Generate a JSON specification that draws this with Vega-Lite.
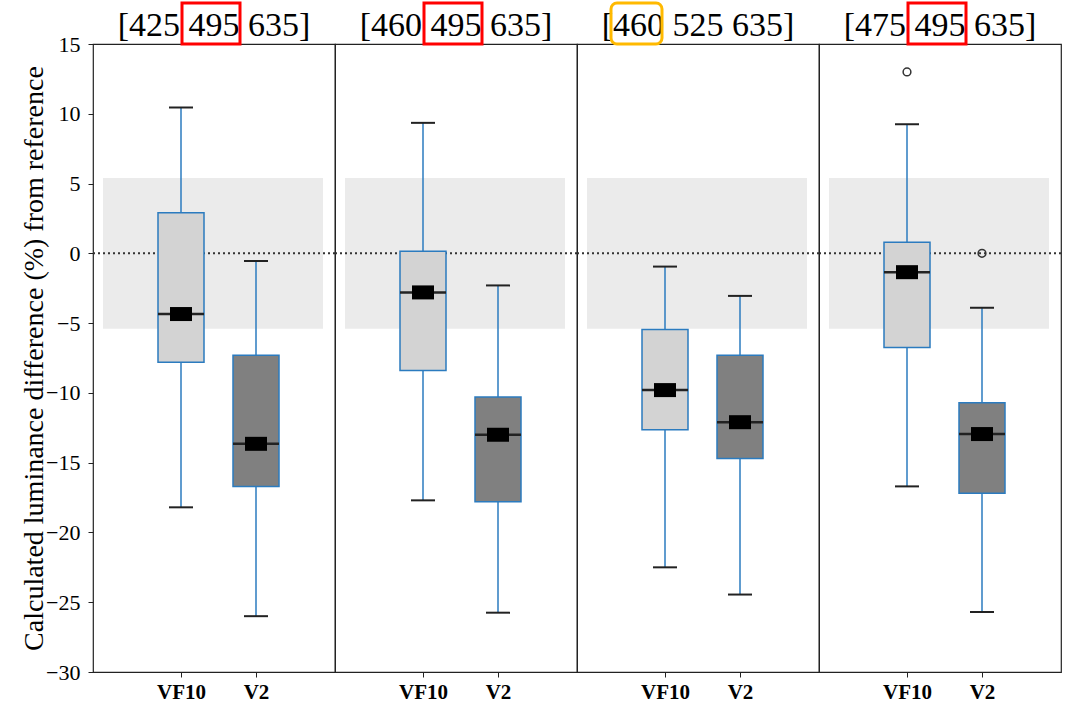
{
  "$schema": "https://vega.github.io/schema/vega-lite/v6.json",
  "padding": {"left": 20, "top": 0, "right": 5, "bottom": 0},
  "background": "white",
  "bounds": "flush",
  "data": {
    "values": [
      {"kind": "panel", "panel": 1, "title": "[425 495 635]", "mark": "mid", "lo": -5.4, "hi": 5.4},
      {"kind": "panel", "panel": 2, "title": "[460 495 635]", "mark": "mid", "lo": -5.4, "hi": 5.4},
      {"kind": "panel", "panel": 3, "title": "[460 525 635]", "mark": "left", "lo": -5.4, "hi": 5.4},
      {"kind": "panel", "panel": 4, "title": "[475 495 635]", "mark": "mid", "lo": -5.4, "hi": 5.4},
      {"kind": "box", "panel": 1, "group": "VF10", "lower": -18.2, "q1": -7.8, "median": -4.35, "mean": -4.35, "q3": 2.9, "upper": 10.45},
      {"kind": "box", "panel": 1, "group": "V2", "lower": -26.0, "q1": -16.7, "median": -13.65, "mean": -13.65, "q3": -7.3, "upper": -0.55},
      {"kind": "box", "panel": 2, "group": "VF10", "lower": -17.7, "q1": -8.4, "median": -2.8, "mean": -2.8, "q3": 0.15, "upper": 9.35},
      {"kind": "box", "panel": 2, "group": "V2", "lower": -25.75, "q1": -17.8, "median": -13.0, "mean": -13.0, "q3": -10.3, "upper": -2.3},
      {"kind": "box", "panel": 3, "group": "VF10", "lower": -22.5, "q1": -12.65, "median": -9.8, "mean": -9.8, "q3": -5.45, "upper": -0.95},
      {"kind": "box", "panel": 3, "group": "V2", "lower": -24.45, "q1": -14.7, "median": -12.1, "mean": -12.1, "q3": -7.3, "upper": -3.05},
      {"kind": "box", "panel": 4, "group": "VF10", "lower": -16.7, "q1": -6.75, "median": -1.35, "mean": -1.35, "q3": 0.8, "upper": 9.25},
      {"kind": "box", "panel": 4, "group": "V2", "lower": -25.7, "q1": -17.2, "median": -12.95, "mean": -12.95, "q3": -10.7, "upper": -3.9},
      {"kind": "outlier", "panel": 4, "group": "VF10", "value": 13.0},
      {"kind": "outlier", "panel": 4, "group": "V2", "value": 0.0}
    ]
  },
  "facet": {"column": {"field": "panel", "type": "ordinal", "header": null}},
  "spacing": 0,
  "spec": {
    "width": 242,
    "height": 628,
    "layer": [
      {
        "transform": [{"filter": "datum.kind === 'panel'"}],
        "mark": {"type": "rect", "fill": "#ebebeb", "xOffset": -78, "x2Offset": 67},
        "encoding": {
          "x": {"datum": "VF10", "type": "nominal",
                "scale": {"type": "point", "domain": ["VF10", "V2"], "range": [88, 163], "padding": 0},
                "axis": {"title": null, "labelAngle": 0, "labelFont": "Liberation Serif", "labelFontWeight": "bold", "labelFontSize": 21, "labelColor": "#000000", "tickColor": "#222222", "tickSize": 5, "labelPadding": 4, "domain": false, "grid": false}},
          "x2": {"datum": "V2"},
          "y": {"field": "lo", "type": "quantitative", "title": "Calculated luminance difference (%) from reference",
                "scale": {"domain": [-30, 15], "nice": false, "zero": false},
                "axis": {"values": [15, 10, 5, 0, -5, -10, -15, -20, -25, -30], "titleFont": "Liberation Serif", "titleFontSize": 28, "titleFontWeight": "normal", "titleColor": "#000000", "titlePadding": -3, "labelFont": "Liberation Serif", "labelFontSize": 22, "labelColor": "#000000", "tickColor": "#222222", "tickSize": 5, "labelPadding": 8, "domain": false, "grid": false}},
          "y2": {"field": "hi"}
        }
      },
      {
        "transform": [{"filter": "datum.kind === 'panel'"}],
        "mark": {"type": "rule", "color": "#333333", "strokeWidth": 2, "strokeDash": [2, 3]},
        "encoding": {"y": {"datum": 0, "type": "quantitative", "title": "Calculated luminance difference (%) from reference"}}
      },
      {
        "transform": [{"filter": "datum.kind === 'box'"}],
        "mark": {"type": "rule", "color": "#2b7bbf", "strokeWidth": 1.5},
        "encoding": {
          "x": {"field": "group", "type": "nominal", "title": null},
          "y": {"field": "lower", "type": "quantitative", "title": "Calculated luminance difference (%) from reference"},
          "y2": {"field": "q1"}
        }
      },
      {
        "transform": [{"filter": "datum.kind === 'box'"}],
        "mark": {"type": "rule", "color": "#2b7bbf", "strokeWidth": 1.5},
        "encoding": {
          "x": {"field": "group", "type": "nominal", "title": null},
          "y": {"field": "q3", "type": "quantitative", "title": "Calculated luminance difference (%) from reference"},
          "y2": {"field": "upper"}
        }
      },
      {
        "transform": [{"filter": "datum.kind === 'box'"}],
        "mark": {"type": "tick", "color": "#222222", "size": 24, "thickness": 2, "opacity": 1},
        "encoding": {
          "x": {"field": "group", "type": "nominal", "title": null},
          "y": {"field": "lower", "type": "quantitative", "title": "Calculated luminance difference (%) from reference"}
        }
      },
      {
        "transform": [{"filter": "datum.kind === 'box'"}],
        "mark": {"type": "tick", "color": "#222222", "size": 24, "thickness": 2, "opacity": 1},
        "encoding": {
          "x": {"field": "group", "type": "nominal", "title": null},
          "y": {"field": "upper", "type": "quantitative", "title": "Calculated luminance difference (%) from reference"}
        }
      },
      {
        "transform": [{"filter": "datum.kind === 'box'"}],
        "mark": {"type": "bar", "size": 46, "stroke": "#2b7bbf", "strokeWidth": 1.5},
        "encoding": {
          "x": {"field": "group", "type": "nominal", "title": null},
          "y": {"field": "q1", "type": "quantitative", "title": "Calculated luminance difference (%) from reference"},
          "y2": {"field": "q3"},
          "fill": {"field": "group", "type": "nominal", "scale": {"domain": ["VF10", "V2"], "range": ["#d3d3d3", "#808080"]}, "legend": null}
        }
      },
      {
        "transform": [{"filter": "datum.kind === 'box'"}],
        "mark": {"type": "tick", "color": "#222222", "size": 46, "thickness": 2.5, "opacity": 1},
        "encoding": {
          "x": {"field": "group", "type": "nominal", "title": null},
          "y": {"field": "median", "type": "quantitative", "title": "Calculated luminance difference (%) from reference"}
        }
      },
      {
        "transform": [{"filter": "datum.kind === 'box'"}],
        "mark": {"type": "tick", "color": "#000000", "size": 22, "thickness": 14, "opacity": 1},
        "encoding": {
          "x": {"field": "group", "type": "nominal", "title": null},
          "y": {"field": "mean", "type": "quantitative", "title": "Calculated luminance difference (%) from reference"}
        }
      },
      {
        "transform": [{"filter": "datum.kind === 'outlier'"}],
        "mark": {"type": "point", "filled": false, "color": "#333333", "size": 60, "strokeWidth": 1.5, "opacity": 1},
        "encoding": {
          "x": {"field": "group", "type": "nominal", "title": null},
          "y": {"field": "value", "type": "quantitative", "title": "Calculated luminance difference (%) from reference"}
        }
      },
      {
        "transform": [{"filter": "datum.kind === 'panel'"}],
        "mark": {"type": "text", "font": "Liberation Serif", "fontSize": 34, "baseline": "alphabetic", "align": "center", "dy": -8, "color": "#000000"},
        "encoding": {
          "y": {"datum": 15, "type": "quantitative", "title": "Calculated luminance difference (%) from reference"},
          "text": {"field": "title"}
        }
      },
      {
        "transform": [{"filter": "datum.kind === 'panel' && datum.mark === 'mid'"}],
        "mark": {"type": "rect", "fill": null, "fillOpacity": 0, "stroke": "#ff0000", "strokeWidth": 3, "xOffset": 1, "x2Offset": -16, "y2Offset": -41},
        "encoding": {
          "x": {"datum": "VF10", "type": "nominal"},
          "x2": {"datum": "V2"},
          "y": {"datum": 15, "type": "quantitative", "title": "Calculated luminance difference (%) from reference"},
          "y2": {"datum": 15}
        }
      },
      {
        "transform": [{"filter": "datum.kind === 'panel' && datum.mark === 'left'"}],
        "mark": {"type": "rect", "fill": null, "fillOpacity": 0, "stroke": "#ffb900", "strokeWidth": 3, "cornerRadius": 6, "xOffset": -54, "x2Offset": -78, "y2Offset": -41},
        "encoding": {
          "x": {"datum": "VF10", "type": "nominal"},
          "x2": {"datum": "V2"},
          "y": {"datum": 15, "type": "quantitative", "title": "Calculated luminance difference (%) from reference"},
          "y2": {"datum": 15}
        }
      }
    ]
  },
  "resolve": {"scale": {"x": "shared", "y": "shared"}},
  "config": {
    "view": {"stroke": "#222222", "strokeWidth": 1.2}
  }
}
